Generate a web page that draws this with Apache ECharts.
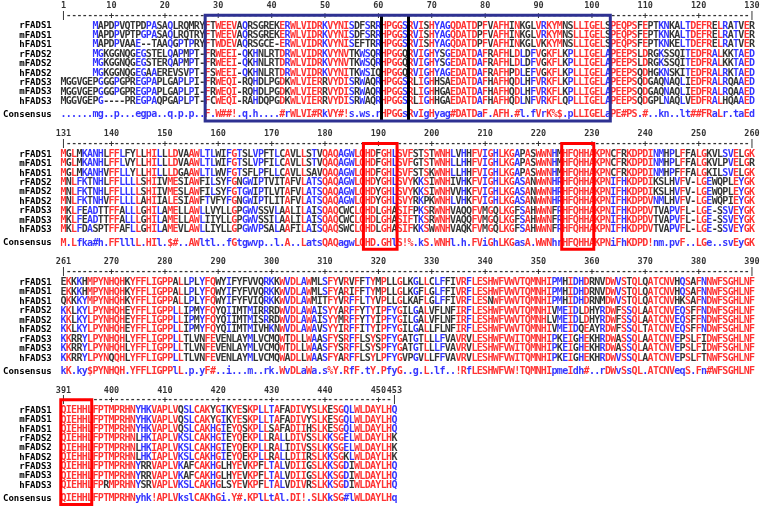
<!DOCTYPE html>
<html><head><meta charset="utf-8">
<script src="https://cdn.jsdelivr.net/npm/echarts@6/dist/echarts.min.js"></script>
<style>html,body{margin:0;padding:0;background:#fff}#c{width:760px;height:512px}</style>
</head><body><div id="c"></div>
<script>
// ---------------- DATA ----------------
const seqNames = ['rFADS1','mFADS1','hFADS1','rFADS2','mFADS2','hFADS2','rFADS3','mFADS3','hFADS3'];
const consensusName = 'Consensus';
const blockRanges = [[1,130],[131,260],[261,390],[391,453]];

const rulerLabels1 = [1,10,20,30,40,50,60,70,80,90,100,110,120,130];
const rulerLabels2 = [131,140,150,160,170,180,190,200,210,220,230,240,250,260];
const rulerLabels3 = [261,270,280,290,300,310,320,330,340,350,360,370,380,390];
const rulerLabels4 = [391,400,410,420,430,440,450,453];

const block1 = [
 "      MAPDPVQTPDPASAQLRQMRY" + "FTWEEVAQRSGREKERWLVIDRKVYNISDFSRRHPGGSRVISHYAGQDATDPFVAFHINKGLVRKYMNSLLIGELSPEQPSFEPTKNKALTDEFRELRATVER",
 "      MAPDPVPTPGPASAQLRQTRY" + "FTWEEVAQRSGREKERWLVIDRKVYNISDFSRRHPGGSRVISHYAGQDATDPFVAFHINKGLVRKYMNSLLIGELSPEQPSFEPTKNKALTDEFRELRATVER",
 "      MAPDPVAAE--TAAQGPTPRY" + "FTWDEVAQRSGCE-ERWLVIDRKVYNISEFTRRHPGGSRVISHYAGQDATDPFVAFHINKGLVKKYMNSLLIGELSPEQPSFEPTKNKELTDEFRELRATVER",
 "      MGKGGNQGEGSTELQAPMPT-" + "FRWEEI-QKHNLRTDRWLVIDRKVYNVTKWSQRHPGGQRVIGHYSGEDATDAFRAFHLDLDFVGKFLKPLLIGELAPEEPSLDRGKSSQITEDFRALKKTAED",
 "      MGKGGNQGEGSTERQAPMPT-" + "FRWEEI-QKHNLRTDRWLVIDRKVYNVTKWSQRHPGGQRVIGHYSGEDATDAFRAFHLDLDFVGKFLKPLLIGELAPEEPSLDRGKSSQITEDFRALKKTAED",
 "      MGKGGNQGEGAAEREVSVPT-" + "FSWEEI-QKHNLRTDRWLVIDRKVYNITKWSIQHPGGQRVIGHYAGEDATDAFRAFHPDLEFVGKFLKPLLIGELAPEEPSQDHGKNSKITEDFRALRKTAED",
 "MGGVGEPGGGPGPREGPAPLGAPLPI-" + "FRWEQI-RQHDLPGDKWLVIERRVYDISRWAQRHPGGSRLIGHHSAEDATDAFHAFHQDLHFVRKFLKPLLIGELAPEEPSQDGAQNAQLIEDFRALRQAAED",
 "MGGVGEPGGGPGPREGPAPLGAPLPI-" + "FRWEQI-RQHDLPGDKWLVIERRVYDISRWAQRHPGGSRLIGHHGAEDATDAFHAFHQDLHFVRKFLKPLLIGELAPEEPSQDGAQNAQLIEDFRALRQAAED",
 "MGGVGEPG----PREGPAQPGAPLPT-" + "FCWEQI-RAHDQPGDKWLVIERRVYDISRWAQRHPGGSRLIGHHGAEDATDAFHAFHQDLNFVRKFLQPLLIGELAPEEPSQDGPLNAQLVEDFRALHQAAED"
];
const consensus1 = "......mg..p...egpa..q.p.p.." + "F.W##!.q.h....#rWLVI#RkVY#!s.ws.rHPGGsRvIgHyag#DATDaF.AFH" + ".#l.fVrK%$.pLLIGELaPE#PS.#..kn..lt##FRaLr.taEd";

const block2 = [
 "MGLMKANHLFFLFYLLHILLLDVAAWLTLWIFGTSLVPFTLCAVLLSTVQAQAGWLQHDFGHLSVFSTSTWNHLVHHFVIGHLKGAPASWWNHMHFQHHAKPNCFRKDPDINMHPLFFALGKVLSVELGK",
 "MGLMKANHLFFLVYLLHILLLDVAAWLTLWIFGTSLVPFILCAVLLSTVQAQAGWLQHDFGHLSVFGTSTWNHLLHHFVIGHLKGAPASWWNHMHFQHHAKPNCFRKDPDINMHPLFFALGKVLPVELGR",
 "MGLMKANHVFFLLYLLHILLLDGAAWLTLWVFGTSFLPFLLCAVLLSAVQAQAGWLQHDFGHLSVFSTSKWNHLLHHFVIGHLKGAPASWWNHMHFQHHAKPNCFRKDPDINMHPFFFALGKILSVELGK",
 "MNLFKTNHLFFLLLLSHIIVMESIAWFILSYFGNGWIPTVITAFVLATSQAQAGWLQHDYGHLSVYKKSIWNHIVHKFVIGHLKGASANWWNHRHFQHHAKPNIFHKDPDIKSLHVFV-LGEWQPLEYGK",
 "MNLFKTNHLFFLLLLSHIIVMESLAWFILSYFGTGWIPTLVTAFVLATSQAQAGWLQHDYGHLSVYKKSIWNHVVHKFVIGHLKGASANWWNHRHFQHHAKPNIFHKDPDIKSLHVFV-LGEWQPLEYGK",
 "MNLFKTNHVFFLLLLAHIIALESIAWFTVFYFGNGWIPTLITAFVLATSQAQAGWLQHDYGHLSVYRKPKWNHLVHKFVIGHLKGASANWWNHRHFQHHAKPNIFHKDPDVNMLHVFV-LGEWQPIEYGK",
 "MKLFEADTTFFALLLGHILAMELLAWLLVYLLGPGWVSSVLAALILAISQAQCWCLQHDLGHASIFPKSRWNHVAQQFVMGQLKGFSAHWWNFRHFQHHAKPNIFHKDPDVTVAPVFL-LGE-SSVEYGK",
 "MKLFEADTTFFALLLGHILAMELLAWLIIYLLGPGWVSSILAALILAISQAQCWCLQHDLGHASIFTKSRWNHVAQQFVMGQLKGFSAHWWNFRHFQHHAKPNIFHKDPDVTVAPVFL-LGE-SSVEYGK",
 "MKLFDASPTFFAFLLGHILAMEVLAWLLIYLLGPGWVPSALAAFILAISQAQSWCLQHDLGHASIFKKSWWNHVAQKFVMGQLKGFSAHWWNFRHFQHHAKPNIFHKDPDVTVAPVFL-LGE-SSVEYGK"
];
const consensus2 = "M.Lfka#h.FFlllL.HIl.$#..AWltl..fGtgwvp" + "..l.A..LatsQAQagwLQHD.GHlS!%.kS.WNHl.h.FViGhLK" + "GasA.WWNhrHFQHHAKPNiFhKDPD!nm.pvF..LGe..svEyGK";

const block3 = [
 "EKKKHMPYNHQHKYFFLIGPPALLPLYFQWYIFYFVVQRKKWVDLAWMLSFYVRVFFTYMPLLGLKGLLCLFFIVRFLESHWFVWVTQMNHIPMHIDHDRNVDWVSTQLQATCNVHQSAFNNWFSGHLNF",
 "EKKKHMPYNHQHKYFFLIGPPALLPLYFQWYIFYFVVQRKKWVDLAWMLSFYARIFFTYMPLLGLKGFLGLFFIVRFLESHWFVWVTQMNHIPMHIDHDRNVDWVSTQLQATCNVHQSAFNNWFSGHLNF",
 "QKKKYMPYNHQHKYFFLIGPPALLPLYFQWYIFYFVIQRKKWVDLAWMITFYVRFFLTYVPLLGLKAFLGLFFIVRFLESNWFVWVTQMNHIPMHIDHDRNMDWVSTQLQATCNVHKSAFNDWFSGHLNF",
 "KKLKYLPYNHQHEYFFLIGPPLLIPMYFQYQIIMTMIRRRDWVDLAWAISYYARFFYTYIPFYGILGALVFLNFIRFLESHWFVWVTQMNHIVMEIDLDHYRDWFSSQLAATCNVEQSFFNDWFSGHLNF",
 "KKLKYLPYNHQHEYFFLIGPPLLIPMYFQYQIIMTMISRRDWVDLAWAISYYMRFFYTYIPFYGILGALVFLNFIRFLESHWFVWVTQMNHLVMEIDLDHYRDWFSSQLAATCNVEQSFFNDWFSGHLNF",
 "KKLKYLPYNHQHEYFFLIGPPLLIPMYFQYQIIMTMIVHKNWVDLAWAVSYYIRFFITYIPFYGILGALLFLNFIRFLESHWFVWVTQMNHIVMEIDQEAYRDWFSSQLTATCNVEQSFFNDWFSGHLNF",
 "KKRRYLPYNHQHLYFFLIGPPLLTLVNFEVENLAYMLVCMQWTDLLWAASFYSRFFLSYSPFYGATGTLLLFVAVRVLESHWFVWITQMNHIPKEIGHEKHRDWASSQLAATCNVEPSLFIDWFSGHLNF",
 "KKRRYLPYNHQHLYFFLIGPPLLTLVNFEVENLAYMLVCMQWTDLLWAASFYSRFFLSYSPFYGATGTLLLFVAVRVLESHWFVWITQMNHIPKEIGHEKHRDWASSQLAATCNVEPSLFIDWFSGHLNF",
 "KKRRYLPYNQQHLYFFLIGPPLLTLVNFEVENLAYMLVCMQWADLLWAASFYARFFLSYLPFYGVPGVLLFFVAVRVLESHWFVWITQMNHIPKEIGHEKHRDWVSSQLAATCNVEPSLFTNWFSGHLNF"
];
const consensus3 = "kK.ky$PYNHQH.YFFLIGPPlL.p.yF#..i...m." + ".rk.WvDLaWa.s%Y.RfF.tY.PfyG..g.L.lf..!RfLESHW" + "FVW!TQMNHIpmeIdh#..rDWvSsQL.ATCNVeqS.Fn#WFSGHLNF";

const block4 = [
 "QIEHHLFPTMPRHNYHKVAPLVQSLCAKYGIKYESKPLLTAFADIVYSLKESGQLWLDAYLHQ",
 "QIEHHLFPTMPRHNYHKVAPLVQSLCAKYGIKYESKPLLTAFADIVYSLKESGQLWLDAYLHQ",
 "QIEHHLFPTMPRHNYHKVAPLVQSLCAKHGIEYQSKPLLSAFADIIHSLKESGQLWLDAYLHQ",
 "QIEHHLFPTMPRHNLHKIAPLVKSLCAKHGIEYQEKPLLRALLDIVSSLKKSGELWLDAYLHK",
 "QIEHHLFPTMPRHNLHKIAPLVKSLCAKHGIEYQEKPLLRALIDIVSSLKKSGELWLDAYLHK",
 "QIEHHLFPTMPRHNLHKIAPLVKSLCAKHGIEYQEKPLLRALLDIIRSLKKSGKLWLDAYLHK",
 "QIEHHLFPTMPRHNYRRVAPLVKAFCAKHGLHYEVKPFLTALVDIIGSLKKSGDIWLDAYLHQ",
 "QIEHHLFPTMPRHNYRRVAPLVKAFCAKHGLHYEVKPFLTALVDIIGSLKKSGDIWLDAYLHQ",
 "QIEHHLFPRMPRHNYSRVAPLVKSLCAKHGLSYEVKPFLTALVDIVRSLKKSGDIWLDAYLHQ"
];
const consensus4 = "QIEHHLFPTMPRHNyhk!APLVkslCAKhGi.Y#.KPlLtAl.DI!.SLKkSG#lWLDAYLHq";

// motif boxes, as column spans
const blueBoxes1 = [[27.55, 103.45]];
const blackDividers1 = [60.45, 65.55];
const redBoxes2 = [[187.2, 193.5], [224.35, 230.35]];
const redBoxes4 = [[390.35, 396.3]];

// ---------------- LAYOUT / STYLE ----------------
const RED = '#ff0000', BLUE = '#0000ff', BLACK = '#000000', NAVY = '#2e3192';
const COL_PX = 5.349, ROW_PX = 9.45, X0 = 62, Y0 = 26, BLOCK_H = 128.3;
const V_MIN = -2.7, V_MAX = V_MIN + 128 / ROW_PX;
const CONS_V = 9.4, NUM_V = -2.15, RULER_V = -1.12, BOX_TOP = -1.15, BOX_BOT = 10.05;
const SEQ_FONT = {fontFamily: 'DejaVu Sans Mono', fontWeight: 'bold', fontSize: 10};

const CLASSES = {'!': 'IV', '$': 'LM', '%': 'FY', '#': 'NDQEBZ'};

const blocks = [
  {rows: block1, cons: consensus1, ticks: rulerLabels1},
  {rows: block2, cons: consensus2, ticks: rulerLabels2},
  {rows: block3, cons: consensus3, ticks: rulerLabels3},
  {rows: block4, cons: consensus4, ticks: rulerLabels4}
];

function columnRule(c, residues) {
  if (c >= 'A' && c <= 'Z') return {match: r => r === c, color: RED};
  if (c >= 'a' && c <= 'z') { const u = c.toUpperCase(); return {match: r => r === u, color: BLUE}; }
  if (CLASSES[c]) {
    const set = CLASSES[c];
    const res = residues.filter(r => r !== ' ');
    const all = res.every(r => set.includes(r));
    return {match: r => set.includes(r), color: all ? RED : BLUE};
  }
  return {match: () => false, color: BLUE};
}

const grids = [], xAxes = [], yAxes = [], series = [];
blocks.forEach((blk, b) => {
  const [start, end] = blockRanges[b];
  grids.push({left: X0 - COL_PX / 2, top: BLOCK_H * b + Y0 + V_MIN * ROW_PX, width: 130 * COL_PX, height: 128});
  xAxes.push({type: 'value', gridIndex: b, min: start - 0.5, max: start + 129.5, show: false});
  const labelVals = seqNames.map((_, i) => i).concat([CONS_V]);
  yAxes.push({type: 'value', gridIndex: b, inverse: true, min: V_MIN, max: V_MAX,
    axisLine: {show: false}, axisTick: {show: false}, splitLine: {show: false},
    axisLabel: {show: true, customValues: labelVals, margin: 9, hideOverlap: false,
      formatter: v => (Math.abs(v - CONS_V) < 0.01 ? consensusName : (seqNames[Math.round(v)] || '')),
      fontFamily: 'DejaVu Sans Mono', fontWeight: 'bold', fontSize: 9, color: BLACK}});

  const seqData = [];
  for (let j = 0; j <= end - start; j++) {
    const col = start + j;
    const residues = blk.rows.map(r => r[j] || ' ');
    const c = blk.cons[j];
    const rule = columnRule(c, residues);
    residues.forEach((r, i) => {
      if (r === ' ') return;
      const color = (r !== '-' && rule.match(r)) ? rule.color : BLACK;
      seqData.push({name: r, value: [col, i], label: {color}});
    });
    const cc = (c === '.') ? BLUE : rule.color;
    seqData.push({name: c, value: [col, CONS_V], label: {color: cc}});
  }
  const base = {type: 'scatter', xAxisIndex: b, yAxisIndex: b, symbol: 'circle', symbolSize: 1,
    itemStyle: {color: 'rgba(0,0,0,0)'}, silent: true, animation: false, progressive: 0,
    emphasis: {disabled: true}};
  series.push(Object.assign({}, base, {
    data: seqData,
    label: Object.assign({show: true, position: 'inside', formatter: '{b}', textBorderWidth: 0}, SEQ_FONT)
  }));

  // ruler
  const rulerData = [];
  for (let col = start; col <= end; col++) {
    const ch = (col === start || col === end) ? '|' : (col % 10 === 0 ? '+' : '-');
    rulerData.push({name: ch, value: [col, RULER_V]});
  }
  series.push(Object.assign({}, base, {
    data: rulerData, z: 3,
    label: {show: true, position: 'inside', formatter: '{b}', color: BLACK, textBorderWidth: 0,
      fontFamily: 'DejaVu Sans Mono', fontWeight: 'bold', fontSize: 9}
  }));
  series.push(Object.assign({}, base, {
    data: blk.ticks.map(t => ({name: String(t), value: [t, NUM_V]})),
    label: {show: true, position: 'inside', formatter: '{b}', color: BLACK, textBorderWidth: 0,
      fontFamily: 'DejaVu Sans Mono', fontWeight: 'bold', fontSize: 8.5}
  }));

  // boxes
  const areas = [];
  if (b === 0) blueBoxes1.forEach(([a, z]) => areas.push([{coord: [a, BOX_TOP], itemStyle: {borderColor: NAVY}}, {coord: [z, BOX_BOT]}]));
  if (b === 1) redBoxes2.forEach(([a, z]) => areas.push([{coord: [a, BOX_TOP], itemStyle: {borderColor: RED}}, {coord: [z, BOX_BOT]}]));
  if (b === 3) redBoxes4.forEach(([a, z]) => areas.push([{coord: [a, BOX_TOP], itemStyle: {borderColor: RED}}, {coord: [z, BOX_BOT]}]));
  const boxSeries = Object.assign({}, base, {data: [], z: 10});
  if (areas.length) {
    boxSeries.markArea = {silent: true, z: 10, label: {show: false},
      itemStyle: {color: 'rgba(0,0,0,0)', borderWidth: 3}, data: areas};
  }
  if (b === 0) {
    boxSeries.markLine = {silent: true, z: 9, symbol: ['none', 'none'], label: {show: false},
      lineStyle: {color: BLACK, width: 3, type: 'solid'},
      data: blackDividers1.map(x => [{coord: [x, BOX_TOP]}, {coord: [x, BOX_BOT]}])};
  }
  series.push(boxSeries);
});

const chart = echarts.init(document.getElementById('c'), null, {renderer: 'canvas', width: 760, height: 512});
chart.setOption({animation: false, backgroundColor: '#ffffff', grid: grids, xAxis: xAxes, yAxis: yAxes, series});
</script></body></html>
